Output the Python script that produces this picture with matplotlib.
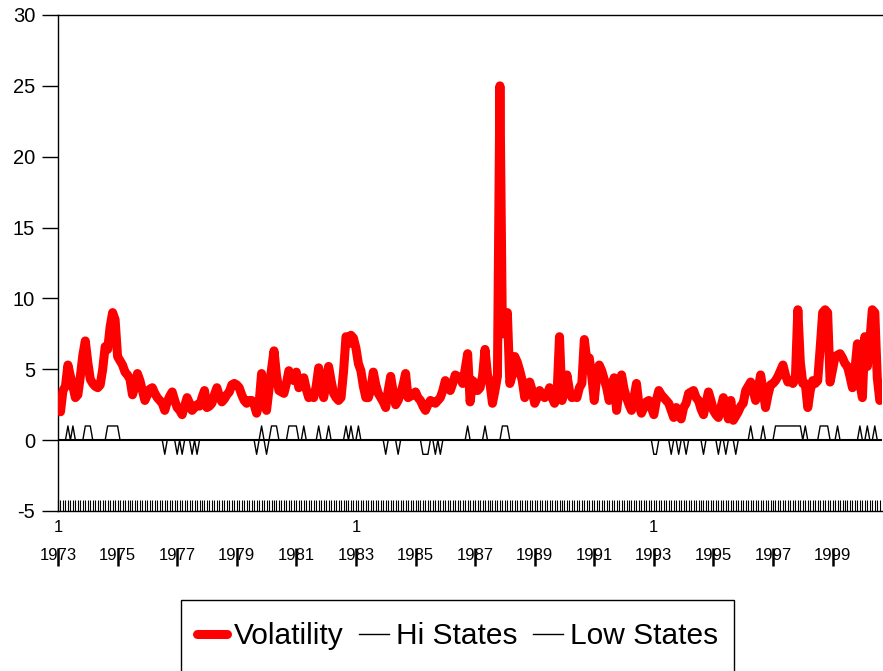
import numpy as np
import matplotlib
matplotlib.use("Agg")
import matplotlib.pyplot as plt
from matplotlib.transforms import blended_transform_factory
from matplotlib.patches import Rectangle
from matplotlib.lines import Line2D

plt.rcParams['font.family'] = ['Liberation Sans', 'DejaVu Sans']
plt.rcParams['axes.unicode_minus'] = False

# ---------------- data (monthly, starting 1973:01) ----------------
start_year = 1973
vol_1973 = [2.2, 2.0, 3.5, 3.8, 5.3, 4.5, 3.8, 3.0, 3.2, 4.5, 6.0, 7.0]
vol_1974 = [5.5, 4.3, 4.0, 3.8, 3.7, 3.9, 5.0, 6.6, 6.4, 8.0, 9.0, 8.5]
vol_1975 = [5.9, 5.6, 5.3, 4.8, 4.6, 4.3, 3.2, 3.8, 4.7, 4.2, 3.5, 2.8]
vol_1976 = [3.2, 3.6, 3.7, 3.3, 3.0, 2.8, 2.6, 2.1, 2.7, 3.1, 3.4, 2.8]
vol_1977 = [2.3, 2.1, 1.8, 2.4, 3.0, 2.6, 2.1, 2.3, 2.5, 2.4, 3.0, 3.5]
vol_1978 = [2.3, 2.4, 2.6, 3.2, 3.7, 3.1, 2.7, 2.9, 3.2, 3.4, 3.9, 4.0]
vol_1979 = [3.9, 3.7, 3.2, 2.8, 2.6, 2.8, 2.8, 2.5, 1.9, 2.6, 4.7, 3.2]
vol_1980 = [2.1, 3.6, 5.0, 6.3, 4.6, 3.5, 3.4, 3.3, 4.0, 4.9, 4.4, 4.2]
vol_1981 = [4.8, 3.7, 3.9, 4.4, 3.6, 3.0, 3.2, 3.0, 3.8, 5.1, 4.0, 3.0]
vol_1982 = [4.0, 5.2, 4.2, 3.3, 3.0, 2.8, 3.0, 4.8, 7.3, 6.8, 7.4, 7.2]
vol_1983 = [6.5, 5.4, 4.9, 3.8, 3.0, 3.0, 3.6, 4.8, 3.9, 3.3, 3.0, 2.7]
vol_1984 = [2.3, 3.5, 4.5, 3.4, 2.5, 2.8, 3.3, 3.9, 4.7, 3.0, 3.1, 3.2]
vol_1985 = [3.4, 3.0, 2.8, 2.4, 2.1, 2.5, 2.8, 2.7, 2.6, 2.8, 3.0, 3.5]
vol_1986 = [4.2, 3.8, 3.5, 4.0, 4.6, 4.5, 4.4, 4.0, 5.0, 6.1, 2.7, 4.2]
vol_1987 = [4.0, 3.5, 3.7, 4.5, 6.4, 4.6, 4.0, 2.6, 3.5, 4.5, 25.0, 7.5]
vol_1988 = [8.0, 9.0, 4.0, 4.6, 5.9, 5.5, 4.9, 4.2, 3.0, 3.6, 4.1, 3.5]
vol_1989 = [2.6, 3.0, 3.5, 3.2, 3.0, 3.2, 3.7, 3.0, 2.6, 3.2, 7.3, 2.8]
vol_1990 = [3.5, 4.6, 3.5, 3.0, 3.1, 3.0, 3.7, 4.0, 7.1, 5.6, 5.8, 4.5]
vol_1991 = [2.8, 4.5, 5.3, 4.9, 4.3, 3.7, 2.8, 3.5, 4.4, 2.1, 3.5, 4.6]
vol_1992 = [3.6, 3.0, 2.5, 2.1, 3.0, 4.0, 2.5, 1.9, 2.3, 2.7, 2.8, 2.3]
vol_1993 = [1.8, 2.8, 3.5, 3.2, 3.0, 2.8, 2.6, 2.1, 1.6, 2.3, 2.0, 1.5]
vol_1994 = [2.3, 2.6, 3.3, 3.4, 3.5, 3.0, 2.8, 2.2, 1.8, 2.6, 3.4, 2.8]
vol_1995 = [2.1, 1.8, 1.6, 2.3, 3.0, 2.4, 1.5, 2.8, 1.4, 1.7, 2.0, 2.4]
vol_1996 = [2.6, 3.5, 3.8, 4.1, 3.5, 2.8, 3.6, 4.6, 3.5, 2.3, 3.2, 3.9]
vol_1997 = [4.0, 4.2, 4.5, 4.9, 5.3, 4.6, 4.1, 4.2, 4.0, 4.3, 9.2, 5.5]
vol_1998 = [4.0, 4.0, 2.3, 3.5, 4.2, 4.0, 4.2, 6.5, 9.0, 9.2, 9.0, 4.1]
vol_1999 = [5.0, 5.9, 6.0, 6.1, 5.8, 5.4, 5.2, 4.5, 3.7, 5.0, 6.8, 4.0]
vol_2000 = [3.0, 7.3, 5.2, 7.0, 9.2, 9.0, 4.4, 2.8]

# month indices (0 = 1973:01) classified into the high / low regime
hi_state_months = [4, 6, 11, 12, 13, 20, 21, 22, 23, 24,
                   82, 86, 87, 88, 93, 94, 95, 96, 99, 105, 109, 116, 118, 121,
                   165, 172, 179, 180, 181,
                   279, 284, 289, 290, 291, 292, 293, 294, 295, 296, 297, 298, 299,
                   301, 307, 308, 309, 310, 314, 323, 326, 329]
low_state_months = [43, 48, 50, 54, 56, 80, 84, 132, 137, 147, 148, 149, 152, 154,
                    240, 241, 247, 250, 253, 260, 266, 269, 273]

y_ticks = [-5, 0, 5, 10, 15, 20, 25, 30]
year_labels = [1973, 1975, 1977, 1979, 1981, 1983, 1985, 1987, 1989, 1991, 1993, 1995, 1997, 1999]
period_label_years = [1973, 1983, 1993]
series_names = ["Volatility", "Hi States", "Low States"]

# ---------------- build series ----------------
volatility = (vol_1973 + vol_1974 + vol_1975 + vol_1976 + vol_1977 + vol_1978 + vol_1979 +
              vol_1980 + vol_1981 + vol_1982 + vol_1983 + vol_1984 + vol_1985 + vol_1986 +
              vol_1987 + vol_1988 + vol_1989 + vol_1990 + vol_1991 + vol_1992 + vol_1993 +
              vol_1994 + vol_1995 + vol_1996 + vol_1997 + vol_1998 + vol_1999 + vol_2000)
n = len(volatility)
t = start_year + np.arange(n) / 12.0
hi = np.zeros(n)
hi[hi_state_months] = 1
low = np.zeros(n)
low[low_state_months] = -1

# ---------------- figure ----------------
W, H = 883, 671
fig = plt.figure(figsize=(W / 100, H / 100), dpi=100)
ax = fig.add_axes([58 / W, 1 - 511 / H, (882 - 58) / W, (511 - 15) / H])

ax.axhline(0, color='black', lw=1.5, zorder=1)
ax.plot(t, hi, color='black', lw=1.0, zorder=2)
ax.plot(t, low, color='black', lw=1.0, zorder=2)
ax.plot(t, volatility, color='#ff0000', lw=6.5, solid_capstyle='round',
        solid_joinstyle='round', zorder=3)

ax.set_xlim(start_year, start_year + 331.9 / 12)
ax.set_ylim(-5, 30)

for s in ['left', 'top', 'bottom']:
    ax.spines[s].set_linewidth(1.0)
ax.spines['right'].set_visible(False)

ax.set_yticks(y_ticks)
ax.set_yticklabels([str(v) for v in y_ticks])
ax.tick_params(axis='y', direction='out', length=11.5, width=1.0, labelsize=14.5, pad=5)

ax.set_xticks(t)
ax.set_xticklabels([])
ax.tick_params(axis='x', direction='in', length=8, width=0.8, color='black')

trans = blended_transform_factory(ax.transData, ax.transAxes)
ax_h = 511 - 15
for yr in period_label_years:
    ax.text(yr, -(527 - 511) / ax_h, "1", transform=trans, ha='center', va='center', fontsize=12)
for yr in year_labels:
    ax.text(yr, -(556 - 511) / ax_h, str(yr), transform=trans, ha='center', va='center', fontsize=12)
    ax.plot([yr, yr], [-(548 - 511) / ax_h, -(566 - 511) / ax_h], transform=trans,
            color='black', lw=1.8, clip_on=False, solid_capstyle='butt')

# legend
handles = [Line2D([], [], color='#ff0000', lw=6.5, solid_capstyle='round'),
           Line2D([], [], color='black', lw=1.0),
           Line2D([], [], color='black', lw=1.0)]
fig.legend(handles, series_names, loc='center left', bbox_to_anchor=(197 / W, 1 - 636 / H),
           ncol=3, frameon=False, fontsize=21.5, handlelength=1.0, handletextpad=0.25,
           columnspacing=0.5, borderpad=0, borderaxespad=0)
fig.add_artist(Rectangle((181 / W, -0.05), (734 - 181) / W, (1 - 600 / H) + 0.05,
                         transform=fig.transFigure, fill=False, ec='black', lw=1.0))

fig.savefig("out.png", dpi=100)
